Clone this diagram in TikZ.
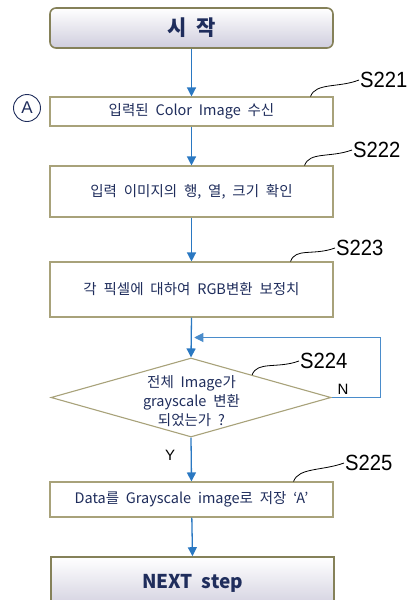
\documentclass[tikz,border=0pt]{standalone}
\usepackage{fontspec}
\setmainfont{Liberation Sans}
\newfontfamily\kr{Noto Sans CJK KR}[WordSpace=2.1]
\newfontfamily\narrowsans{Liberation Sans}[FakeStretch=0.92]
\usetikzlibrary{arrows.meta,calc,positioning,shapes.geometric}
\definecolor{boxline}{HTML}{A8A27A}
\definecolor{darkline}{HTML}{858159}
\definecolor{txtblue}{HTML}{1F2D5C}
\definecolor{flowblue}{HTML}{2A78C2}
\definecolor{lavgray}{HTML}{CFCDDD}

\begin{document}
\begin{tikzpicture}[x=1pt,y=-1pt,
    stepbox/.style={draw=boxline,line width=1.1pt,fill=white,minimum width=283pt,
      inner sep=0pt,text=txtblue,align=center,font=\kr\fontsize{14.5}{19}\selectfont},
    endbox/.style={draw=darkline,line width=1.6pt,minimum width=283pt,inner sep=0pt,
      top color=white,middle color=white,bottom color=lavgray,text=txtblue,
      font=\kr\bfseries\fontsize{19}{22}\selectfont},
    flow/.style={draw=flowblue,line width=1.3pt,-{Triangle[length=9pt,width=9pt]}},
    steplabel/.style={inner sep=1pt,anchor=west,font=\narrowsans\fontsize{22}{24}\selectfont},
    tilde/.style={black,line width=0.8pt}]
  \useasboundingbox (0,0) rectangle (417,600);
  \clip (0,0) rectangle (417,600);

  % --- boxes ---
  \node[endbox,rounded corners=6pt,minimum height=40pt,font=\kr\bfseries\fontsize{21}{24}\selectfont]
    (start) at (191.5,28) {시 작};
  \node[stepbox,minimum height=29pt] (s221) at (191.5,111.5) {입력된 Color Image 수신};
  \node[stepbox,minimum height=51pt] (s222) at (191.5,191.5) {입력 이미지의 행, 열, 크기 확인};
  \node[stepbox,minimum height=55pt] (s223) at (191.5,289.5) {각 픽셀에 대하여 RGB변환 보정치};
  \node[draw=boxline,line width=1.1pt,fill=white,shape=diamond,inner sep=0pt,
    minimum width=280pt,minimum height=79pt] (dec) at (191,397.5) {};
  \node[text=txtblue,align=center,font=\kr\fontsize{14.5}{19}\selectfont] (dectxt) at (191.5,401)
    {전체 Image가\\grayscale 변환\\되었는가 ?};
  \node[stepbox,minimum height=35pt] (s225) at (191.5,499.5) {Data를 Grayscale image로 저장 ‘A’};
  \node[endbox,minimum height=54pt] (next) at (192.5,584) {};
  \node[text=txtblue,font=\kr\bfseries\fontsize{19}{22}\selectfont] (nexttxt) at (192.5,583) {NEXT step};

  \node[draw=txtblue,shape=circle,line width=0.9pt,minimum size=27pt,inner sep=0pt,
    text=txtblue,font=\fontsize{17}{19}\selectfont] (ca) at (27,108) {A};

  % --- flow ---
  \draw[flow] (start) -- (s221);
  \draw[flow] (s221) -- (s222);
  \draw[flow] (s222) -- (s223);
  \draw[flow] (s223.south) -- (dec.north);
  \draw[flow] (dec.south) -- node[left=12pt,pos=0.4,font=\fontsize{15}{17}\selectfont] (ylab) {Y} (s225.north);
  \draw[flow] (s225) -- (next.north);

  % --- loop back (N) ---
  \coordinate (merge) at ($(s223.south)!0.5!(dec.north)+(3,0)$);
  \draw[flow,line width=1pt,draw=flowblue!85] (dec.east) -- ++(49,0) |- (merge);
  \node[font=\fontsize{15}{17}\selectfont] (nlab) at (343,389) {N};

  % --- step labels ---
  \node[steplabel] (l221) at (359,80) {S221};
  \node[steplabel] (l222) at (352,150) {S222};
  \node[steplabel] (l223) at (335,248) {S223};
  \node[steplabel] (l224) at (299,361) {S224};
  \node[steplabel] (l225) at (344,463) {S225};
  \draw[tilde] ($(s221.north east)+(-23,0)$) .. controls +(5,-14) and +(-20,8) .. (l221.west);
  \draw[tilde] ($(s222.north east)+(-29,0)$) .. controls +(5,-14) and +(-22,8) .. (l222.west);
  \draw[tilde] ($(s223.north east)+(-43,0)$) .. controls +(5,-14) and +(-22,8) .. (l223.west);
  \draw[tilde] ($(dec.north)!0.435!(dec.east)$) .. controls +(5,-14) and +(-22,8) .. (l224.west);
  \draw[tilde] ($(s225.north east)+(-40,0)$) .. controls +(5,-14) and +(-22,8) .. (l225.west);
\end{tikzpicture}
\end{document}
